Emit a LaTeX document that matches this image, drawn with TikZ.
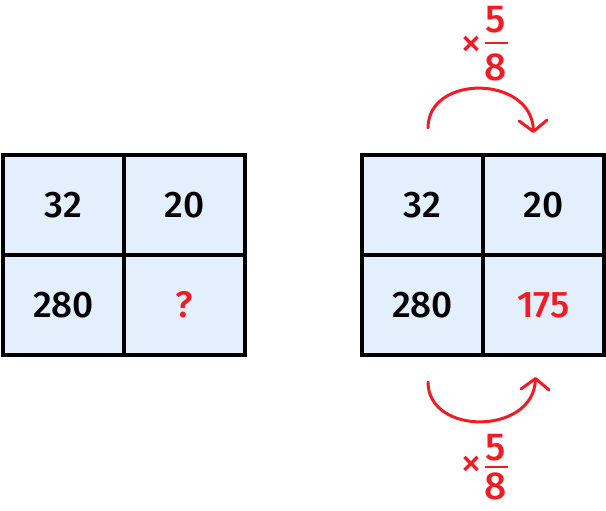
\documentclass[tikz,border=0pt]{standalone}
\usepackage{fontspec}
\setmainfont{Fira Sans}[BoldFont={Fira Sans Medium}]
\usetikzlibrary{calc,arrows.meta,positioning}
\definecolor{cellblue}{HTML}{E3EFFC}
\definecolor{markred}{HTML}{EE1C25}
\tikzstyle{cell}=[
  draw, line width=4pt, fill=cellblue, outer sep=0pt, inner sep=0pt,
  minimum width=121pt, minimum height=100pt,
  font=\fontsize{37}{42}\selectfont\bfseries
]
\tikzstyle{answer}=[
  text=markred
]
\tikzstyle{hop}=[
  markred, line width=3pt, line cap=round,
  -{Straight Barb[length=11pt,width=28pt,round]}
]
\tikzstyle{fracdigit}=[
  text=markred, inner sep=0pt, font=\fontsize{39}{42}\selectfont\bfseries
]
\tikzstyle{fracbar}=[
  markred, line width=2.2pt
]
\tikzstyle{times}=[
  text=markred, inner sep=0pt, font=\fontsize{44}{48}\selectfont
]

\begin{document}
\begin{tikzpicture}[x=1pt, y=-1pt]
  \useasboundingbox (0,0) rectangle (606,511);
  % left table
  \node (l11) at (63.5,205) [cell] {32};
  \node (l12) [cell, right=0pt of l11] {20};
  \node (l21) [cell, below=0pt of l11] {280};
  \node (l22) [cell, answer, below=0pt of l12] {?};
  % right table
  \node (r11) at (422.5,205) [cell] {32};
  \node (r12) [cell, right=0pt of r11] {20};
  \node (r21) [cell, below=0pt of r11] {280};
  \node (r22) [cell, answer, below=0pt of r12] {175};

  % top hop
  \coordinate (topfrom) at ($(r11.north) + (5.5,-27)$);
  \coordinate (topto) at ($(r12.north) + (-10,-22)$);
  \draw [hop] (topfrom) .. controls +(0,-54) and +(-2,-58) .. (topto);
  \node (topnum) at (496,20) [fracdigit] {5};
  \node (topden) at (496,67) [fracdigit] {8};
  \node (toptimes) at (471,47) [times] {×};
  \draw [fracbar] ($(topnum.south)!0.5!(topden.north) + (-11.5,0)$)
    -- ($(topnum.south)!0.5!(topden.north) + (11.5,0)$);

  % bottom hop
  \coordinate (botfrom) at ($(r21.south) + (5.5,27)$);
  \coordinate (botto) at ($(r22.south) + (-8,22)$);
  \draw [hop] (botfrom) .. controls +(0,54) and +(-2,58) .. (botto);
  \node (botnum) at (496,447.5) [fracdigit] {5};
  \node (botden) at (496,486.5) [fracdigit] {8};
  \node (bottimes) at (471,467) [times] {×};
  \draw [fracbar] ($(botnum.south)!0.5!(botden.north) + (-11.5,0)$)
    -- ($(botnum.south)!0.5!(botden.north) + (11.5,0)$);
\end{tikzpicture}
\end{document}
